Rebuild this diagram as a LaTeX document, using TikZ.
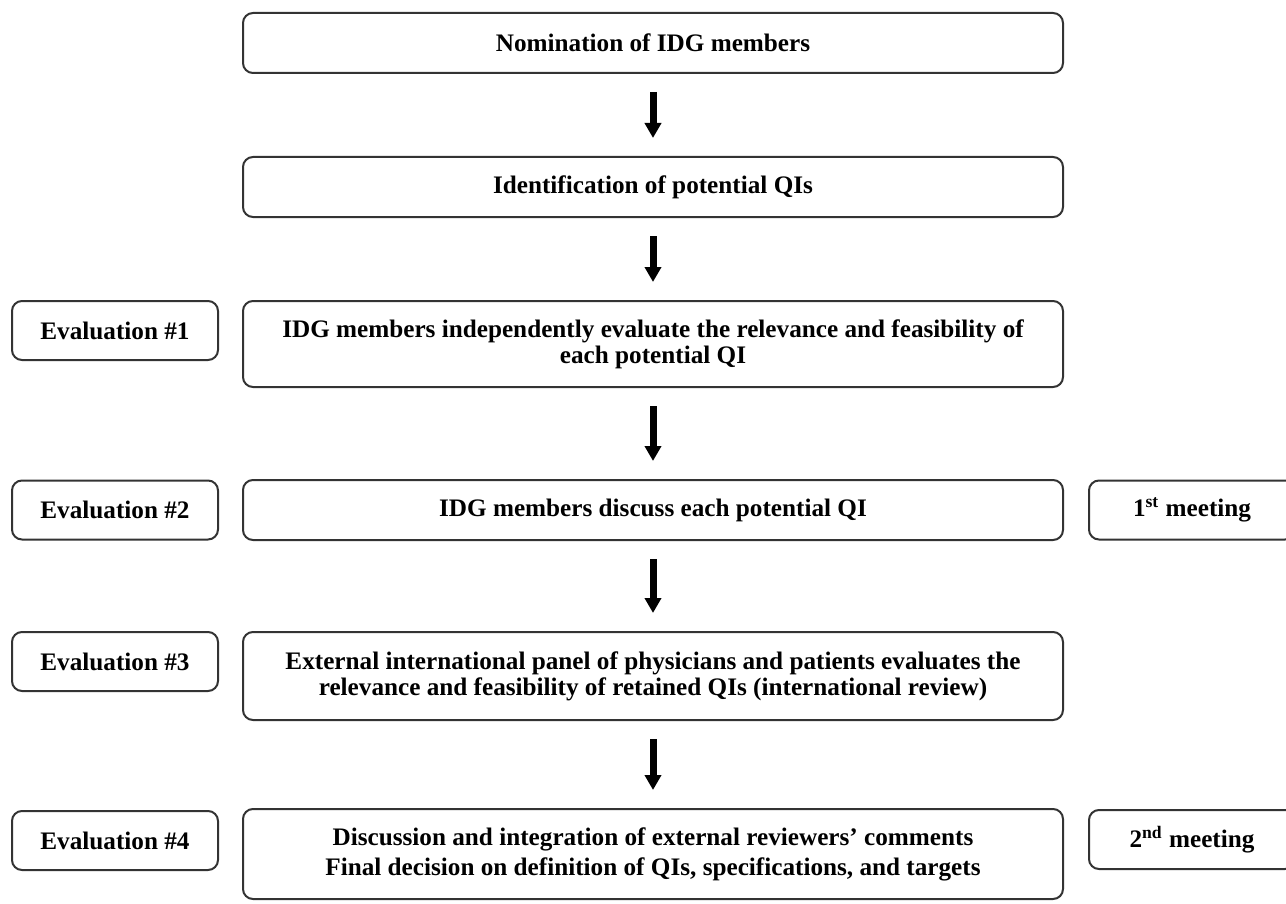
\documentclass[tikz,border=0pt]{standalone}
\usepackage{fontspec}
\setmainfont{Liberation Serif}
\usepackage{xcolor}
\usetikzlibrary{positioning,arrows.meta}

\begin{document}
\begin{tikzpicture}[
    node distance=42pt and 12.5pt,
    block/.style={rectangle, draw=black!80, line width=1pt, rounded corners=5pt, minimum width=410pt, minimum height=#1, inner sep=0pt, outer sep=0pt, align=center, font=\fontsize{12.6}{13}\selectfont\bfseries},
    block/.default=30pt,
    side/.style={rectangle, draw=black!80, line width=1pt, rounded corners=5pt, minimum width=103pt, minimum height=29.5pt, inner sep=0pt, outer sep=0pt, align=center, font=\fontsize{12.6}{13}\selectfont\bfseries},
    arrow/.style={->, >={Triangle[width=8pt,length=7.5pt]}, line width=3.5pt, shorten <=9.5pt, shorten >=9.5pt},
]
    \useasboundingbox (0,0) rectangle (643pt,-452pt);

    % Main steps
    \node[block, anchor=north] (nom) at (326.5pt,-6.5pt) {Nomination of IDG members};
    \node[block, below=42pt of nom] (ident) {Identification of potential QIs};
    \node[block=43pt, below=42pt of ident] (indep) {IDG members independently evaluate the relevance and feasibility of\\
        each potential QI};
    \node[block, below=46.5pt of indep] (discuss) {IDG members discuss each potential QI};
    \node[block=44pt, below=46pt of discuss] (panel) {External international panel of physicians and patients evaluates the\\
        relevance and feasibility of retained QIs (international review)};
    \node[block=45pt, below=44.5pt of panel] (final) {Discussion and integration of external reviewers' comments\\[2pt]
        Final decision on definition of QIs, specifications, and targets};

    % Evaluation rounds
    \node[side, left=12.5pt of indep.north west, anchor=north east] (ev1) {Evaluation \#1};
    \node[side, left=12.5pt of discuss] (ev2) {Evaluation \#2};
    \node[side, left=12.5pt of panel.north west, anchor=north east] (ev3) {Evaluation \#3};
    \node[side, left=12.5pt of final.north west, anchor=north east, yshift=-1pt] (ev4) {Evaluation \#4};

    % Meetings
    \node[side, right=13pt of discuss] (meet1) {1\textsuperscript{st} meeting};
    \node[side, right=13pt of final.north east, anchor=north west, yshift=-0.5pt] (meet2) {2\textsuperscript{nd} meeting};

    % Arrows
    \draw[arrow] (nom) -- (ident);
    \draw[arrow] (ident) -- (indep);
    \draw[arrow] (indep) -- (discuss);
    \draw[arrow] (discuss) -- (panel);
    \draw[arrow] (panel) -- (final);
\end{tikzpicture}
\end{document}
